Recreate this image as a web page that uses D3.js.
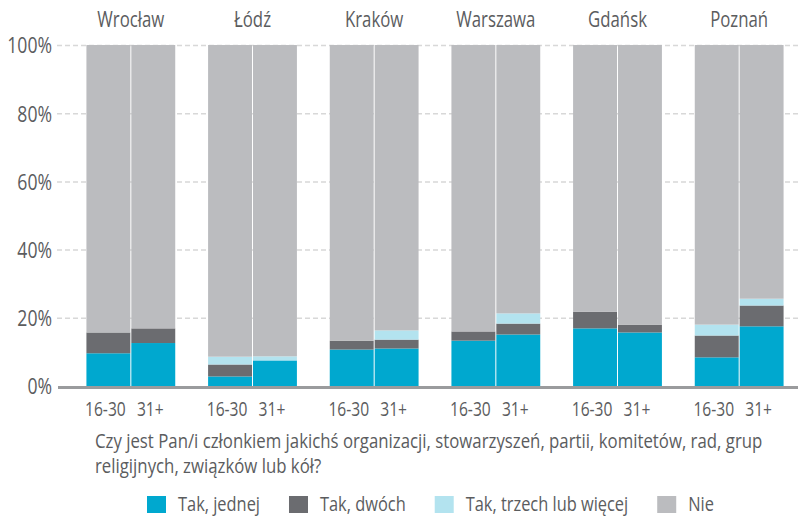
<!DOCTYPE html>
<html>
<head>
<meta charset="utf-8">
<script src="https://cdn.jsdelivr.net/npm/d3@7/dist/d3.min.js"></script>
<style>
  body { margin: 0; background: #fff; }
  svg { display: block; }
  text { font-family: "Open Sans", "Noto Sans", sans-serif; fill: #5b5c5e; }
</style>
</head>
<body>
<div id="chart"></div>
<script>
const cities = ["Wrocław", "Łódź", "Kraków", "Warszawa", "Gdańsk", "Poznań"]
const ages = ["16-30", "31+"]
const yTicks = [0, 20, 40, 60, 80, 100]

// one value per bar: city by city, 16-30 then 31+
const takJednej = [9.6, 12.6, 2.8, 7.5, 10.7, 11.0, 13.3, 15.1, 16.9, 15.7, 8.4, 17.5]
const takDwoch = [6.1, 4.3, 3.5, 0.0, 2.6, 2.6, 2.7, 3.2, 4.9, 2.3, 6.4, 6.1]
const takTrzech = [0.0, 0.0, 2.3, 1.2, 0.0, 2.7, 0.0, 3.0, 0.0, 0.0, 3.2, 2.0]
const nie = takJednej.map((v, i) => 100 - v - takDwoch[i] - takTrzech[i])

const seriesNames = ["Tak, jednej", "Tak, dwóch", "Tak, trzech lub więcej", "Nie"]
const seriesColors = ["#00a8cf", "#6b6c70", "#b3e3ef", "#bbbcbf"]
const question = ["Czy jest Pan/i członkiem jakichś organizacji, stowarzyszeń, partii, komitetów, rad, grup",
  "religijnych, związków lub kół?"]

const width = 798
const height = 516
const SX = 0.8 // narrow the font to match the condensed face

const rows = []
cities.forEach((c, ci) => {
  ages.forEach((a, ai) => {
    const i = ci * 2 + ai
    rows.push({ city: c, age: a, "Tak, jednej": takJednej[i], "Tak, dwóch": takDwoch[i],
      "Tak, trzech lub więcej": takTrzech[i], "Nie": nie[i] })
  })
})

const svg = d3.select("#chart").append("svg")
  .attr("width", width)
  .attr("height", height)

function place(sel, fx, fy, sx = SX) {
  return sel.attr("transform", (d, i) => `translate(${fx(d, i)},${fy(d, i)}) scale(${sx},1)`)
}

const x = d3.scaleBand()
  .domain(cities)
  .range([70, 800])
  .paddingInner(0.27)
  .paddingOuter(0.135)

const xAge = d3.scaleBand()
  .domain(ages)
  .range([0, x.bandwidth()])
  .paddingInner(0.022)

const y = d3.scaleLinear()
  .domain([0, 100])
  .range([386, 45])

// gridlines
svg.append("g")
  .selectAll("line")
  .data(yTicks.filter(t => t > 0))
  .join("line")
  .attr("x1", 57).attr("x2", width)
  .attr("y1", d => y(d) + 0.5).attr("y2", d => y(d) + 0.5)
  .attr("stroke", "#d8d8d8")
  .attr("stroke-width", 1.5)
  .attr("stroke-dasharray", "5,3")

// y labels
svg.append("g")
  .selectAll("text")
  .data(yTicks)
  .join("text")
  .call(place, () => 52, d => y(d) + 0.5)
  .attr("dy", "0.36em")
  .attr("text-anchor", "end")
  .attr("font-size", "22px")
  .text(d => d + "%")

// stacked bars
const stacked = d3.stack().keys(seriesNames)(rows)
const color = d3.scaleOrdinal().domain(seriesNames).range(seriesColors)

svg.append("g")
  .selectAll("g")
  .data(stacked)
  .join("g")
  .attr("fill", d => color(d.key))
  .selectAll("rect")
  .data(d => d)
  .join("rect")
  .attr("x", d => x(d.data.city) + xAge(d.data.age))
  .attr("width", xAge.bandwidth())
  .attr("y", d => y(d[1]))
  .attr("height", d => y(d[0]) - y(d[1]))

// baseline
svg.append("line")
  .attr("x1", 58).attr("x2", width)
  .attr("y1", y(0) + 1.5).attr("y2", y(0) + 1.5)
  .attr("stroke", "#9a9b9d")
  .attr("stroke-width", 3)

// city labels
svg.append("g")
  .selectAll("text")
  .data(cities)
  .join("text")
  .call(place, d => x(d) + x.bandwidth() / 2, () => 27)
  .attr("text-anchor", "middle")
  .attr("font-size", "21px")
  .text(d => d)

// age labels
svg.append("g")
  .selectAll("text")
  .data(rows)
  .join("text")
  .call(place, d => x(d.city) + xAge(d.age) + xAge.bandwidth() / 2 - 3, () => 416)
  .attr("text-anchor", "middle")
  .attr("font-size", "19.5px")
  .text(d => d.age)

// question
svg.append("g")
  .selectAll("text")
  .data(question)
  .join("text")
  .call(place, () => 95, (d, i) => 448 + i * 25, 0.84)
  .attr("font-size", "20px")
  .text(d => d)

// legend
const legend = svg.append("g")
let lx = 147
seriesNames.forEach((name, i) => {
  legend.append("rect")
    .attr("x", lx).attr("y", 496)
    .attr("width", 19).attr("height", 17)
    .attr("fill", seriesColors[i])
  const t = legend.append("text")
    .attr("transform", `translate(${lx + 31},511) scale(${SX},1)`)
    .attr("font-size", "20.5px")
    .text(name)
  lx += 31 + t.node().getComputedTextLength() * SX + 29
})
</script>
</body>
</html>
